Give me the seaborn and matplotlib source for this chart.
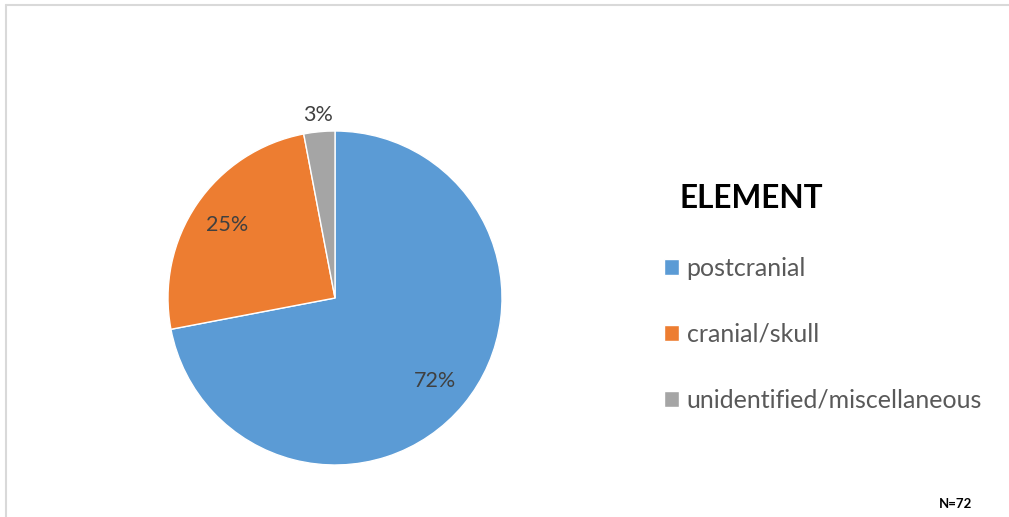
import numpy as np
import matplotlib
matplotlib.use("Agg")
import matplotlib.pyplot as plt
import seaborn as sns
from matplotlib.lines import Line2D

# data
categories = ["postcranial", "cranial/skull", "unidentified/miscellaneous"]
shares = [72, 25, 3]
colors = ["#5B9BD5", "#ED7D31", "#A5A5A5"]
legend_title = "ELEMENT"
note = "N=72"

sns.set_theme(style="white")
plt.rcParams["font.family"] = ["Lato", "DejaVu Sans"]

W, H = 1009, 517
fig = plt.figure(figsize=(W / 100, H / 100), dpi=100)

# pie axes: centre (335, 298) px, radius 167 px
cx, cy, r = 335, 298, 167
ax = fig.add_axes([(cx - r) / W, (H - cy - r) / H, 2 * r / W, 2 * r / H])
wedges, texts, autotexts = ax.pie(
    shares, colors=colors, startangle=90, counterclock=False,
    autopct="%1.0f%%", pctdistance=0.78,
    wedgeprops=dict(edgecolor="white", linewidth=1),
    textprops=dict(color="#404040", fontsize=15.5),
)
ax.set_xlim(-1, 1)
ax.set_ylim(-1, 1)
ax.set_aspect("auto")
ax.axis("off")

# small slice label sits outside the pie
for t, s in zip(autotexts, shares):
    if s < 5:
        x, y = t.get_position()
        t.set_position((x / 0.78 * 1.10, y / 0.78 * 1.10))

# legend
fig.text(680 / W, 1 - 198 / H, legend_title, fontsize=22.7, fontweight="bold",
         color="black", va="center", ha="left")
leg = fig.legend(wedges, categories, loc="upper left",
                 bbox_to_anchor=(664 / W, 1 - 257 / H),
                 frameon=False, fontsize=18, labelcolor="#595959",
                 handlelength=0.6, handleheight=0.6, handletextpad=0.3,
                 labelspacing=1.72, borderpad=0, borderaxespad=0)

fig.text(972 / W, 1 - 504 / H, note, fontsize=9.5, fontweight="bold",
         ha="right", va="center", color="black")

# chart frame (top and left edges visible)
fig.add_artist(Line2D([6 / W, 1], [1 - 4.5 / H, 1 - 4.5 / H], color="#D9D9D9",
                      lw=1.5, transform=fig.transFigure))
fig.add_artist(Line2D([6 / W, 6 / W], [0, 1 - 4.5 / H], color="#D9D9D9",
                      lw=1.5, transform=fig.transFigure))

fig.savefig("out.png", dpi=100, facecolor="white")
